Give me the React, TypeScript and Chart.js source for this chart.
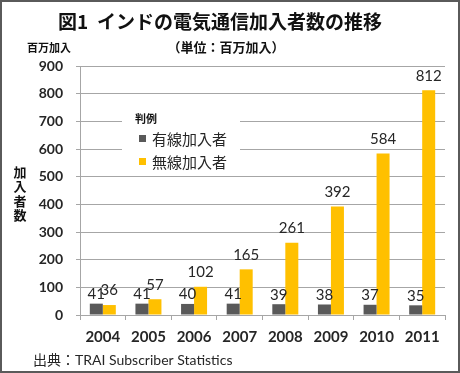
import React, { useEffect, useRef } from "react";
import { Chart, registerables } from "chart.js";

Chart.register(...registerables);

const years = ["2004", "2005", "2006", "2007", "2008", "2009", "2010", "2011"];
const wired = [41, 41, 40, 41, 39, 38, 37, 35];
const wireless = [36, 57, 102, 165, 261, 392, 584, 812];
const seriesNames = ["有線加入者", "無線加入者"];
const yTicks = [0, 100, 200, 300, 400, 500, 600, 700, 800, 900];

const titleText = "図1  インドの電気通信加入者数の推移";
const unitText = "（単位：百万加入）";
const unitLeftText = "百万加入";
const yTitleChars = ["加", "入", "者", "数"];
const legendTitle = "判例";
const sourceText = "出典：TRAI Subscriber Statistics";

const GRAY = "#595959";
const YELLOW = "#FFC000";
const GRID = "#a6a6a6";
const TXT = "#262626";
const JP = "'Noto Sans CJK JP'";
const NUM = "Lato, 'Noto Sans CJK JP'";

const decorPlugin = {
  id: "decor",
  afterDatasetsDraw(chart: any) {
    const ctx = chart.ctx;
    ctx.save();
    ctx.font = `15px ${NUM}`;
    ctx.fillStyle = TXT;
    ctx.textAlign = "center";
    ctx.textBaseline = "bottom";
    chart.data.datasets.forEach((ds: any, i: number) => {
      const meta = chart.getDatasetMeta(i);
      meta.data.forEach((bar: any, j: number) => {
        const off = i === 0 ? 2 : 7;
        ctx.fillText(String(ds.data[j]), bar.x, bar.y - off);
      });
    });
    ctx.restore();
  },
  afterDraw(chart: any) {
    const ctx = chart.ctx;
    ctx.save();
    // title
    ctx.fillStyle = "#111";
    ctx.textAlign = "center";
    ctx.textBaseline = "middle";
    ctx.font = `bold 19px ${JP}`;
    ctx.fillText(titleText, 220, 22);
    ctx.font = `bold 13px ${JP}`;
    ctx.fillText(unitText, 226, 47);
    ctx.font = `bold 11px ${JP}`;
    ctx.textAlign = "left";
    ctx.fillText(unitLeftText, 27, 48);
    // y title
    ctx.textAlign = "center";
    ctx.font = `bold 13px ${JP}`;
    yTitleChars.forEach((c, k) => ctx.fillText(c, 20, 172 + k * 14.5));
    // legend
    ctx.fillStyle = "#ffffff";
    ctx.fillRect(122, 108, 118, 62);
    ctx.fillStyle = "#111";
    ctx.textAlign = "left";
    ctx.font = `bold 11px ${JP}`;
    ctx.fillText(legendTitle, 135, 119);
    const colors = [GRAY, YELLOW];
    seriesNames.forEach((n, k) => {
      const y = 138 + k * 23;
      ctx.fillStyle = colors[k];
      ctx.fillRect(139, y - 3, 7, 7);
      ctx.fillStyle = TXT;
      ctx.font = `15px ${JP}`;
      ctx.fillText(n, 152, y + 1);
    });
    // source
    ctx.font = `14px ${NUM}`;
    ctx.fillStyle = TXT;
    ctx.fillText(sourceText, 33, 360);
    // frame
    ctx.strokeStyle = "#5a5a5a";
    ctx.lineWidth = 2;
    ctx.strokeRect(1, 1, 458, 371);
    ctx.restore();
  },
};

export default function App() {
  const ref = useRef<HTMLCanvasElement | null>(null);
  useEffect(() => {
    if (!ref.current) return;
    const chart = new Chart(ref.current, {
      type: "bar",
      data: {
        labels: years,
        datasets: [
          { label: seriesNames[0], data: wired, backgroundColor: GRAY, barPercentage: 1, categoryPercentage: 0.57 },
          { label: seriesNames[1], data: wireless, backgroundColor: YELLOW, barPercentage: 1, categoryPercentage: 0.57 },
        ],
      },
      options: {
        responsive: false,
        animation: false,
        layout: { padding: { top: 66, right: 15, left: 0, bottom: 0 } },
        plugins: { legend: { display: false }, tooltip: { enabled: false }, title: { display: false } },
        scales: {
          x: {
            grid: { drawOnChartArea: false, color: GRID, tickLength: 5, offset: true },
            border: { color: GRID },
            ticks: { font: { family: NUM, size: 15, weight: "bold" }, color: TXT, padding: 8, maxRotation: 0 },
            afterFit: (s: any) => { s.height = 58; },
          },
          y: {
            min: 0,
            max: 900,
            afterBuildTicks: (s: any) => { s.ticks = yTicks.map((v) => ({ value: v })); },
            grid: { color: GRID, tickLength: 4 },
            border: { color: GRID },
            ticks: { font: { family: NUM, size: 14, weight: "bold" }, color: TXT, padding: 13 },
            afterFit: (s: any) => { s.width = 80; },
          },
        },
      },
      plugins: [decorPlugin],
    } as any);
    return () => chart.destroy();
  }, []);
  return (
    <canvas
      ref={ref}
      width={460}
      height={373}
      style={{ position: "fixed", left: 0, top: 0, width: 460, height: 373, background: "#fff" }}
    />
  );
}
